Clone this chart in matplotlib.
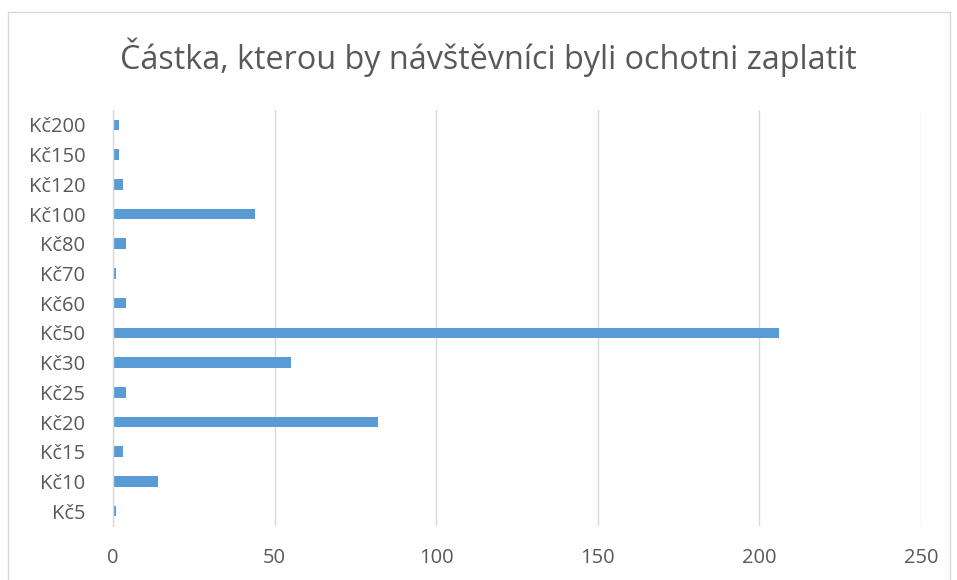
import matplotlib.pyplot as plt
import matplotlib.patches as mpatches
import numpy as np

# data
categories = ['Kč5', 'Kč10', 'Kč15', 'Kč20', 'Kč25', 'Kč30', 'Kč50',
              'Kč60', 'Kč70', 'Kč80', 'Kč100', 'Kč120', 'Kč150', 'Kč200']
values = [1, 14, 3, 82, 4, 55, 206, 4, 1, 4, 44, 3, 2, 2]
xticks = [0, 50, 100, 150, 200, 250]

plt.rcParams['font.family'] = ['Open Sans', 'DejaVu Sans']

fig = plt.figure(figsize=(9.57, 5.8), dpi=100)
W, H = 957, 580
ax = fig.add_axes([113 / W, 1 - 526 / H, (921 - 113) / W, (526 - 110) / H])

# chart border
fig.patches.append(mpatches.Rectangle((8 / W, -0.01), (950 - 8) / W, 1 - 12 / H + 0.01,
                                      transform=fig.transFigure, fill=False,
                                      edgecolor='#d9d9d9', linewidth=1))

y = np.arange(len(categories))
ax.barh(y, values, height=0.355, color='#5b9bd5', zorder=3)

ax.set_xlim(0, 250)
ax.set_ylim(-0.5, len(categories) - 0.5)
ax.set_xticks(xticks)
ax.set_yticks(y)
ax.set_yticklabels(categories)
ax.grid(True, axis='x', color='#d9d9d9', linewidth=1, zorder=0)

for s in ['top', 'right', 'bottom']:
    ax.spines[s].set_visible(False)
ax.spines['left'].set_color('#d9d9d9')
ax.spines['left'].set_linewidth(1)
ax.spines['left'].set_zorder(4)

ax.tick_params(axis='both', length=0, labelsize=14.5, labelcolor='#595959')
ax.tick_params(axis='y', pad=20)
ax.tick_params(axis='x', pad=16)

fig.text(488 / W, 1 - 57 / H, 'Částka, kterou by návštěvníci byli ochotni zaplatit',
         ha='center', va='center', fontsize=23.3, color='#595959')

plt.savefig('out.png', dpi=100)
plt.close()
